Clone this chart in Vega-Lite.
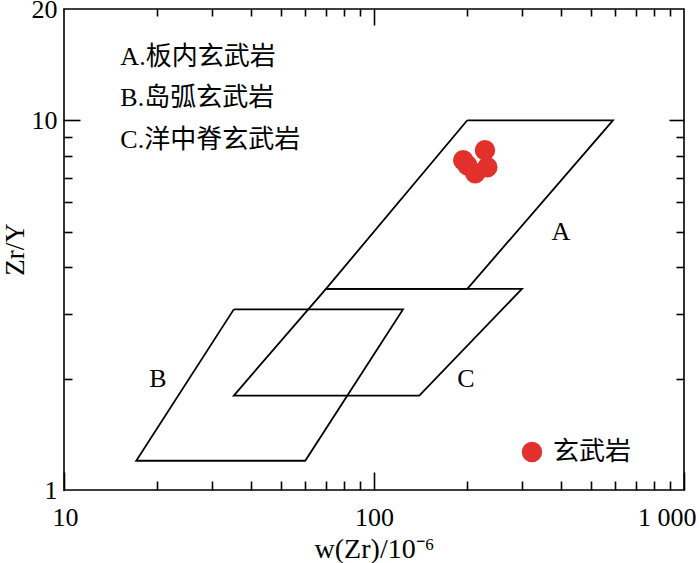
{
  "$schema": "https://vega.github.io/schema/vega-lite/v6.json",
  "width": 620,
  "height": 481,
  "autosize": {"type": "none"},
  "padding": {"left": 64, "top": 9, "right": 16, "bottom": 73},
  "background": "white",
  "config": {
    "view": {"stroke": "black", "strokeWidth": 1.6},
    "font": "Liberation Serif"
  },
  "datasets": {
    "fields": [
      {"poly": "A", "i": 0, "zr": 200, "zry": 10},
      {"poly": "A", "i": 1, "zr": 590, "zry": 10},
      {"poly": "A", "i": 2, "zr": 200, "zry": 3.5},
      {"poly": "A", "i": 3, "zr": 70, "zry": 3.5},
      {"poly": "A", "i": 4, "zr": 200, "zry": 10},
      {"poly": "B", "i": 0, "zr": 35.3, "zry": 3.08},
      {"poly": "B", "i": 1, "zr": 124, "zry": 3.08},
      {"poly": "B", "i": 2, "zr": 60, "zry": 1.2},
      {"poly": "B", "i": 3, "zr": 17.1, "zry": 1.2},
      {"poly": "B", "i": 4, "zr": 35.3, "zry": 3.08},
      {"poly": "C", "i": 0, "zr": 70, "zry": 3.5},
      {"poly": "C", "i": 1, "zr": 300, "zry": 3.5},
      {"poly": "C", "i": 2, "zr": 140, "zry": 1.8},
      {"poly": "C", "i": 3, "zr": 35.3, "zry": 1.8},
      {"poly": "C", "i": 4, "zr": 70, "zry": 3.5}
    ],
    "samples": [
      {"type": "玄武岩", "zr": 194, "zry": 7.8},
      {"type": "玄武岩", "zr": 228, "zry": 8.3},
      {"type": "玄武岩", "zr": 232, "zry": 7.46},
      {"type": "玄武岩", "zr": 212, "zry": 7.19},
      {"type": "玄武岩", "zr": 200, "zry": 7.56}
    ],
    "fieldLabels": [
      {"zr": 401, "zry": 5.0, "t": "A"},
      {"zr": 20.1, "zry": 2.0, "t": "B"},
      {"zr": 198, "zry": 2.0, "t": "C"}
    ],
    "notes": [
      {"zr": 15.2, "zry": 14.8, "t": "A.板内玄武岩"},
      {"zr": 15.2, "zry": 11.5, "t": "B.岛弧玄武岩"},
      {"zr": 15.2, "zry": 8.83, "t": "C.洋中脊玄武岩"}
    ]
  },
  "layer": [
    {
      "data": {"name": "fields"},
      "mark": {"type": "line", "color": "black", "strokeWidth": 1.8, "strokeJoin": "miter"},
      "encoding": {
        "x": {
          "field": "zr", "type": "quantitative",
          "scale": {"type": "log", "domain": [10, 1000], "nice": false, "zero": false},
          "axis": {
            "orient": "bottom",
            "title": "w(Zr)/10⁻⁶",
            "titleFont": "Liberation Serif", "titleFontWeight": "normal", "titleColor": "black",
            "titleFontSize": 28,
            "titlePadding": 5,
            "grid": false,
            "domain": false,
            "ticks": true,
            "tickColor": "black",
            "tickWidth": 1.6,
            "values": [10, 100, 1000],
            "offset": -18,
            "tickSize": 18,
            "labelExpr": "datum.value == 10 ? '10' : datum.value == 100 ? '100' : '1 000'",
            "labelFont": "Liberation Serif", "labelColor": "black",
            "labelFontSize": 26,
            "labelPadding": 14,
            "labelOverlap": false,
            "labelFlush": true,
            "labelFlushOffset": 12,
            "labelBound": false
          }
        },
        "y": {
          "field": "zry", "type": "quantitative",
          "scale": {"type": "log", "domain": [1, 20], "nice": false, "zero": false},
          "axis": {
            "orient": "left",
            "title": "Zr/Y",
            "titleFont": "Liberation Serif", "titleFontWeight": "normal", "titleColor": "black",
            "titleFontSize": 27,
            "titleX": -41,
            "titleY": 240,
            "titleAngle": -90,
            "titleAlign": "center",
            "titleBaseline": "alphabetic",
            "grid": false,
            "domain": false,
            "ticks": true,
            "tickColor": "black",
            "tickWidth": 1.6,
            "tickSize": 1,
            "values": [1, 10, 20],
            "labelExpr": "datum.value == 1 ? '1' : datum.value == 10 ? '10' : '20'",
            "labelFont": "Liberation Serif", "labelColor": "black",
            "labelFontSize": 26,
            "labelPadding": 6,
            "labelOverlap": false,
            "labelFlush": false,
            "labelBound": false
          }
        },
        "detail": {"field": "poly"},
        "order": {"field": "i", "type": "quantitative"}
      }
    },
    {
      "data": {"name": "samples"},
      "mark": {"type": "point", "filled": true, "shape": "circle", "size": 420, "opacity": 1, "strokeWidth": 0},
      "encoding": {
        "x": {
          "field": "zr", "type": "quantitative",
          "axis": {
            "orient": "bottom", "title": null, "labels": false, "grid": false, "domain": false,
            "ticks": true, "tickColor": "black", "tickWidth": 1.6,
            "values": [20, 30, 40, 50, 60, 70, 80, 90, 200, 300, 400, 500, 600, 700, 800, 900],
            "offset": -9, "tickSize": 9
          }
        },
        "y": {
          "field": "zry", "type": "quantitative",
          "axis": {
            "orient": "left", "title": null, "labels": false, "grid": false, "domain": false,
            "ticks": true, "tickColor": "black", "tickWidth": 1.6,
            "values": [10],
            "tickSize": -16
          }
        },
        "color": {
          "field": "type", "type": "nominal",
          "scale": {"domain": ["玄武岩"], "range": ["#e2312d"]},
          "legend": {
            "orient": "none", "legendX": 455, "legendY": 430, "title": null,
            "symbolType": "circle", "symbolSize": 420, "symbolStrokeWidth": 0,
            "labelFontSize": 26, "labelFont": "Noto Sans CJK SC", "labelColor": "black", "labelOffset": 8
          }
        }
      }
    },
    {
      "data": {"name": "fieldLabels"},
      "mark": {"type": "text", "font": "Liberation Serif", "fontSize": 26, "color": "black", "align": "center", "baseline": "middle"},
      "encoding": {
        "x": {
          "field": "zr", "type": "quantitative",
          "axis": {
            "orient": "top", "title": null, "labels": false, "grid": false, "domain": false,
            "ticks": true, "tickColor": "black", "tickWidth": 1.6,
            "values": [20, 30, 40, 50, 60, 70, 80, 90, 200, 300, 400, 500, 600, 700, 800, 900],
            "tickSize": -7
          }
        },
        "y": {
          "field": "zry", "type": "quantitative",
          "axis": {
            "orient": "left", "title": null, "labels": false, "grid": false, "domain": false,
            "ticks": true, "tickColor": "black", "tickWidth": 1.6,
            "values": [2, 3, 4, 5, 6, 7, 8, 9],
            "tickSize": -8
          }
        },
        "text": {"field": "t"}
      }
    },
    {
      "data": {"name": "notes"},
      "transform": [{"filter": "datum.zry > 10"}],
      "mark": {"type": "text", "font": "Liberation Serif, Noto Sans CJK SC", "fontSize": 26, "color": "black", "align": "left", "baseline": "middle"},
      "encoding": {
        "x": {
          "field": "zr", "type": "quantitative",
          "axis": {
            "orient": "top", "title": null, "labels": false, "grid": false, "domain": false,
            "ticks": true, "tickColor": "black", "tickWidth": 1.6,
            "values": [100],
            "tickSize": -16
          }
        },
        "y": {
          "field": "zry", "type": "quantitative",
          "axis": {
            "orient": "right", "title": null, "labels": false, "grid": false, "domain": false,
            "ticks": true, "tickColor": "black", "tickWidth": 1.6,
            "values": [2, 3, 4, 5, 6, 7, 8, 9],
            "offset": -8, "tickSize": 8
          }
        },
        "text": {"field": "t"}
      }
    },
    {
      "data": {"name": "notes"},
      "transform": [{"filter": "datum.zry < 10"}],
      "mark": {"type": "text", "font": "Liberation Serif, Noto Sans CJK SC", "fontSize": 26, "color": "black", "align": "left", "baseline": "middle"},
      "encoding": {
        "x": {"field": "zr", "type": "quantitative", "axis": null},
        "y": {
          "field": "zry", "type": "quantitative",
          "axis": {
            "orient": "right", "title": null, "labels": false, "grid": false, "domain": false,
            "ticks": true, "tickColor": "black", "tickWidth": 1.6,
            "values": [10],
            "offset": -15, "tickSize": 15
          }
        },
        "text": {"field": "t"}
      }
    }
  ],
  "resolve": {"axis": {"x": "independent", "y": "independent"}}
}
